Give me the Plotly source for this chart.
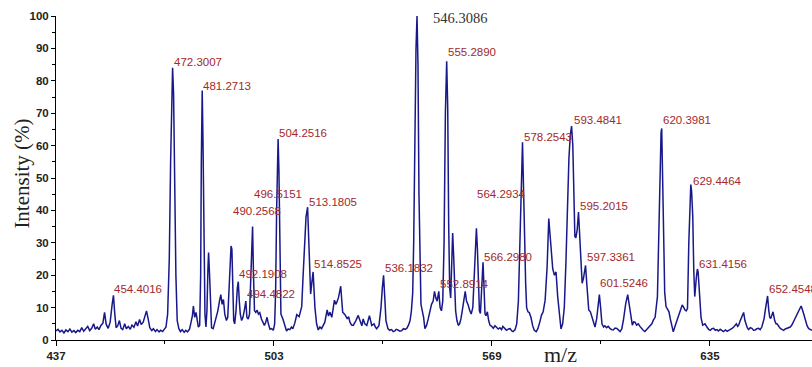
import plotly.graph_objects as go

# ---- spectrum trace (m/z, intensity %) ----
mz = [
    437.0, 437.6, 438.2, 438.8, 439.4, 440.0, 440.6, 441.2, 441.8, 442.4, 443.0, 443.6, 444.2, 444.8,
    445.4, 446.0, 446.6, 447.2, 447.8, 448.4, 448.9, 449.5, 450.0, 450.6, 451.2, 451.7, 452.2, 452.8,
    453.4, 454.0, 454.4, 454.8, 455.2, 455.7, 456.2, 456.7, 457.2, 457.8, 458.3, 458.9, 459.5, 460.0,
    460.6, 461.2, 461.7, 462.3, 462.8, 463.4, 463.9, 464.4, 464.9, 465.4, 466.0, 466.5, 467.1, 467.6,
    468.2, 468.7, 469.3, 469.8,
    470.3, 470.8, 471.3, 471.7, 472.0, 472.3, 472.6, 472.9, 473.3, 473.7, 474.2, 474.7, 475.2, 475.8,
    476.3, 476.8, 477.4, 477.9, 478.3, 478.6, 479.0, 479.4, 479.7, 480.1, 480.5, 480.8, 481.0, 481.27,
    481.5, 481.8, 482.1, 482.4, 482.7, 483.0, 483.2, 483.5, 483.8, 484.1, 484.6, 485.0, 485.5, 486.0,
    486.5, 486.9, 487.3, 487.7, 488.1, 488.6, 489.0, 489.4, 489.7, 490.0, 490.26, 490.5, 490.8, 491.1,
    491.5, 491.9, 492.19, 492.5, 492.8, 493.2, 493.6, 494.0, 494.48, 494.8, 495.2, 495.6, 496.0, 496.3,
    496.52, 496.8, 497.1, 497.5, 497.9, 498.3, 498.7, 499.2, 499.7, 500.1, 500.5, 500.9, 501.3, 501.8,
    502.3, 502.8, 503.2, 503.5, 503.8, 504.05, 504.25, 504.5, 504.8, 505.1,
    505.7, 506.3, 506.8, 507.3, 507.8, 508.3, 508.7, 509.3, 509.9, 510.6, 511.4, 511.8, 512.2, 512.7,
    513.18, 513.6, 514.1, 514.5, 514.85, 515.4, 515.9, 516.4, 516.9, 517.4, 517.9, 518.4, 519.1, 519.5,
    519.95, 520.5, 520.9, 521.3, 521.8, 522.5, 522.9, 523.2, 523.8, 524.5, 525.2, 525.6, 526.0, 526.5,
    527.0, 527.4, 527.8, 528.5, 529.25, 529.6, 530.0, 530.5, 531.1, 531.5, 531.9, 532.6, 533.3, 533.7,
    534.1, 534.8, 535.4, 535.8, 536.18, 536.6, 536.9, 537.5,
    538.0, 538.6, 539.1, 539.6, 540.0, 540.5, 541.1, 541.7, 542.2, 542.7, 543.2, 543.7, 544.2, 544.6,
    545.0, 545.3, 545.6, 546.0, 546.31, 546.6, 546.9, 547.2, 547.5, 547.9, 548.3, 548.7, 549.2, 549.7,
    550.2, 550.7, 551.2, 551.6, 552.0, 552.4, 552.89, 553.3, 553.7, 554.1, 554.5, 554.9, 555.29, 555.6,
    555.9, 556.2, 556.5, 556.8, 557.1, 557.4, 557.7, 558.0, 558.4, 558.8, 559.2, 559.6, 560.0, 560.5,
    560.9, 561.3, 561.8, 562.3, 562.7, 563.2, 563.6, 563.9, 564.29, 564.6, 564.9, 565.2, 565.5, 565.9,
    566.29, 566.6, 566.9, 567.2, 567.6, 568.0, 568.4,
    568.9, 569.4, 569.9, 570.4, 570.9, 571.4, 571.9, 572.3, 572.9, 573.4, 574.0, 574.5, 575.0, 575.4,
    576.0, 576.5, 577.0, 577.4, 577.8, 578.25, 578.6, 578.9, 579.2, 579.5, 579.9, 580.3, 580.8, 581.3,
    581.8, 582.4, 582.9, 583.5, 584.0, 584.5, 585.1, 585.7, 586.2, 586.7, 587.4, 587.9, 588.4, 588.9,
    589.4, 589.9, 590.4, 590.9, 591.4, 591.9, 592.3, 592.7, 593.1, 593.48, 593.8, 594.1, 594.4, 594.8,
    595.2, 595.5, 595.9, 596.3, 596.7, 597.0, 597.34, 597.7, 598.0, 598.3, 598.8, 599.3, 599.8, 600.2,
    600.7, 601.1, 601.52, 601.9, 602.3, 602.8,
    603.2, 603.7, 604.2, 604.7, 605.2, 605.7, 606.3, 606.8, 607.3, 607.8, 608.3, 608.8, 609.5, 610.1,
    610.8, 611.5, 611.9, 612.3, 612.8, 613.3, 613.8, 614.3, 614.8, 615.3, 615.8, 616.3, 616.9, 617.4,
    617.9, 618.4, 619.1, 619.6, 619.9, 620.2, 620.4, 620.7, 621.0, 621.3, 621.7, 622.1, 622.6, 623.0,
    623.3, 623.9, 624.5, 625.3, 626.1, 626.6, 627.1, 627.4, 627.8, 628.2, 628.6, 628.95, 629.2, 629.45,
    629.8, 630.1, 630.4, 630.9, 631.2, 631.42, 631.8, 632.3, 632.8, 633.5, 634.1, 634.6, 635.1, 635.6,
    636.1, 636.6, 637.1, 637.6, 638.1, 638.6, 639.1, 639.7, 640.2, 640.7, 641.2, 641.7, 642.2, 642.6,
    643.0, 643.4, 643.7, 644.1, 644.4, 644.8, 645.2, 645.6, 645.9, 646.3, 646.7, 647.2, 647.7, 648.2,
    648.7, 649.2, 649.7, 650.2, 650.7, 651.1, 651.4, 651.8, 652.1, 652.45, 652.8, 653.1, 653.4, 653.8,
    654.1, 654.6, 655.0, 655.3, 655.8, 656.3, 656.8, 657.3, 657.8, 658.3, 658.8, 659.3, 659.8, 660.3,
    660.8, 661.3, 661.9, 662.6, 663.2, 663.9, 664.4, 664.9, 665.4, 665.9,
]
intensity = [
    2.8, 3.3, 2.5, 3.0, 2.2, 3.1, 2.6, 3.4, 2.4, 2.9, 2.3, 3.0, 2.6, 3.8,
    2.7, 3.5, 4.2, 2.9, 3.6, 5.0, 3.3, 4.0, 3.2, 4.5, 5.2, 8.5, 4.8, 3.6,
    5.5, 11.0, 13.8, 8.0, 3.8, 4.4, 6.0, 3.6, 3.2, 5.0, 3.5, 4.2, 3.3, 4.6,
    3.9, 5.6, 4.3, 6.3, 4.8, 5.5, 7.0, 9.0, 6.5, 3.8, 2.9, 3.5, 2.6, 3.2,
    2.5, 3.0, 2.6, 3.4,
    4.0, 8.0, 25.0, 55.0, 78.0, 84.0, 76.0, 50.0, 20.0, 6.0, 3.5, 2.6, 3.2, 2.4,
    3.0, 2.5, 3.3, 5.5, 7.5, 10.5, 7.0, 8.5, 6.0, 4.0, 4.5, 20.0, 55.0, 77.0,
    62.0, 30.0, 8.0, 4.0, 9.0, 22.0, 27.0, 20.0, 7.0, 3.8, 3.5, 5.0, 6.5, 9.0,
    12.0, 14.0, 11.0, 12.5, 8.0, 6.0, 7.0, 15.0, 25.0, 29.0, 28.0, 15.0, 6.0, 5.0,
    9.0, 16.0, 18.0, 12.0, 8.0, 6.0, 7.0, 9.0, 12.0, 7.0, 6.5, 8.0, 20.0, 33.0,
    35.0, 20.0, 9.0, 8.5, 9.2, 8.0, 8.4, 6.5, 5.5, 4.5, 5.5, 7.0, 5.0, 3.3,
    3.5, 3.0, 5.0, 15.0, 40.0, 58.0, 62.0, 52.0, 25.0, 8.0,
    6.5, 4.5, 2.8, 3.4, 3.2, 4.0, 3.5, 5.2, 7.8, 7.2, 10.3, 19.5, 30.0, 38.0,
    41.0, 25.0, 14.2, 18.0, 21.0, 10.0, 5.0, 3.1, 4.0, 3.5, 4.6, 5.5, 9.3, 7.4,
    8.6, 7.0, 9.5, 12.3, 11.0, 13.0, 15.0, 16.6, 8.6, 7.8, 6.5, 7.2, 5.5, 4.6,
    4.5, 5.2, 6.0, 7.6, 5.0, 4.4, 6.5, 5.0, 4.5, 6.0, 7.5, 4.5, 5.0, 4.0,
    3.5, 4.5, 10.0, 16.0, 20.0, 12.0, 6.0, 3.5,
    3.0, 3.2, 2.6, 2.8, 3.3, 3.1, 2.7, 2.9, 3.5, 3.3, 3.6, 4.5, 6.0, 9.0,
    14.5, 30.0, 60.0, 90.0, 100.0, 85.0, 45.0, 19.0, 11.0, 9.0, 7.0, 3.5, 4.5, 6.5,
    9.0, 11.0, 12.0, 15.0, 13.0, 12.0, 15.0, 10.0, 9.0, 12.0, 30.0, 70.0, 86.0, 72.0,
    35.0, 16.0, 13.0, 22.0, 33.0, 26.0, 18.0, 9.0, 6.0, 4.5, 5.0, 6.5, 9.0, 12.0,
    15.0, 12.0, 10.8, 9.0, 8.0, 10.0, 19.5, 30.0, 34.5, 28.0, 17.0, 9.0, 8.2, 15.0,
    24.0, 16.0, 8.0, 7.5, 8.7, 6.0, 4.6,
    4.2, 3.6, 4.4, 4.0, 3.4, 3.8, 3.2, 4.2, 3.6, 3.0, 3.4, 3.5, 2.8, 2.6,
    3.2, 5.0, 12.0, 28.0, 50.0, 61.0, 45.0, 25.0, 17.5, 10.0, 8.7, 8.5, 7.0, 4.5,
    3.0, 2.6, 3.5, 5.6, 7.7, 8.7, 12.3, 22.6, 37.5, 31.0, 22.0, 20.0, 21.0, 13.4,
    7.0, 3.4, 5.0, 10.0, 24.0, 44.0, 56.0, 63.0, 66.0, 60.0, 48.0, 32.0, 31.5, 34.0,
    39.5, 34.0, 24.0, 17.5, 19.0, 20.6, 23.0, 17.5, 12.0, 9.3, 8.7, 7.0, 6.0, 4.0,
    6.5, 10.0, 14.0, 10.0, 5.0, 4.0,
    4.4, 3.8, 4.2, 3.6, 3.2, 3.1, 3.7, 3.6, 3.0, 2.6, 3.4, 6.1, 11.2, 14.0,
    9.3, 4.6, 5.6, 5.5, 4.6, 5.0, 4.2, 3.5, 3.0, 2.6, 3.2, 3.6, 4.5, 5.0,
    6.2, 7.0, 13.4, 40.0, 55.0, 64.0, 65.3, 45.0, 25.0, 14.7, 10.3, 9.5, 8.7, 6.5,
    5.0, 2.5, 4.5, 7.0, 9.8, 10.8, 10.0, 9.3, 9.0, 9.7, 30.0, 44.0, 48.0, 46.0,
    38.0, 21.6, 13.4, 19.5, 21.9, 21.0, 14.7, 7.0, 4.6, 5.0, 4.0, 3.3, 3.0, 3.5,
    3.6, 3.0, 3.2, 2.8, 3.3, 2.9, 2.6, 3.1, 2.7, 3.0, 3.2, 3.6, 4.0, 4.6,
    5.0, 4.2, 4.6, 5.8, 6.5, 7.2, 8.5, 6.0, 5.0, 3.8, 3.2, 3.8, 3.6, 3.0,
    3.1, 3.5, 3.6, 3.2, 4.0, 5.2, 6.6, 9.5, 11.5, 13.6, 9.3, 7.0, 6.6, 7.6,
    8.7, 6.0, 5.0, 5.0, 4.2, 3.6, 3.3, 3.0, 3.4, 3.6, 3.9, 4.0, 4.6, 5.6,
    6.4, 7.6, 8.7, 10.5, 8.7, 5.6, 4.4, 3.5, 3.2, 3.0,
]

# ---- peak annotations ----
peak_labels = [
    "454.4016", "472.3007", "481.2713", "490.2568", "492.1908", "494.4822", "496.5151",
    "504.2516", "513.1805", "514.8525", "536.1832", "546.3086", "552.8914", "555.2890",
    "564.2934", "566.2980", "578.2543", "593.4841", "595.2015", "597.3361", "601.5246",
    "620.3981", "629.4464", "631.4156", "652.4548",
]
peak_mz = [float(s) for s in peak_labels]
# vertical placement of each label text (intensity units) - layout only
label_y = [
    15.7, 85.9, 78.3, 39.9, 20.4, 14.2, 45.0,
    64.0, 42.6, 23.4, 22.2, 99.3, 17.3, 88.8,
    45.0, 25.7, 62.8, 68.0, 41.5, 25.7, 17.7,
    68.0, 49.0, 23.6, 15.7,
]
base_peak = "546.3086"

x_ticks = [437, 503, 569, 635]

fig = go.Figure()
fig.add_trace(go.Scatter(
    x=mz, y=intensity, mode="lines",
    line=dict(color="#18188a", width=1.5),
    hoverinfo="skip", showlegend=False,
))

sans = "Liberation Sans, Arial, sans-serif"
serif = "Liberation Serif, Times New Roman, serif"

for lab, xm, yl in zip(peak_labels, peak_mz, label_y):
    if lab == base_peak:
        fig.add_annotation(x=xm, y=yl, text=lab, showarrow=False, xanchor="left", yanchor="middle",
                           xshift=14, font=dict(family=serif, size=14.5, color="#333333"))
    else:
        fig.add_annotation(x=xm, y=yl, text=lab, showarrow=False, xanchor="left", yanchor="middle",
                           xshift=-1, font=dict(family=sans, size=11.5, color="#a3282a"))

fig.add_annotation(xref="paper", yref="paper", x=-0.0443, y=0.512, text="Intensity (%)",
                   textangle=-90, showarrow=False, xanchor="center", yanchor="middle",
                   font=dict(family=serif, size=21, color="#222222"))
fig.add_annotation(xref="paper", yref="paper", x=0.667, y=-0.046, text="m/z",
                   showarrow=False, xanchor="center", yanchor="middle",
                   font=dict(family=serif, size=22, color="#222222"))

fig.update_xaxes(
    range=[437, 665.9], tickvals=x_ticks, ticktext=[str(v) for v in x_ticks],
    showline=True, linecolor="black", linewidth=1, showgrid=False, zeroline=False,
    ticks="outside", ticklen=5, tickcolor="black",
    minor=dict(tickvals=[470, 536, 602], ticks="outside", ticklen=3, tickcolor="black", showgrid=False),
    tickfont=dict(family=sans, size=11.5, color="#222222", weight="bold"),
)
fig.update_yaxes(
    range=[0, 100], tick0=0, dtick=10,
    showline=True, linecolor="black", linewidth=1, showgrid=False, zeroline=False,
    ticks="outside", ticklen=4, tickcolor="black",
    minor=dict(dtick=5, ticks="outside", ticklen=3, tickcolor="black", showgrid=False),
    tickfont=dict(family=sans, size=11.5, color="#222222", weight="bold"),
)
fig.update_layout(
    width=812, height=367,
    margin=dict(l=56, r=0, t=16, b=27),
    paper_bgcolor="white", plot_bgcolor="white",
    showlegend=False,
)

fig.write_html("out.html", config={"displayModeBar": False},
               post_script="document.body.style.margin='0';")
